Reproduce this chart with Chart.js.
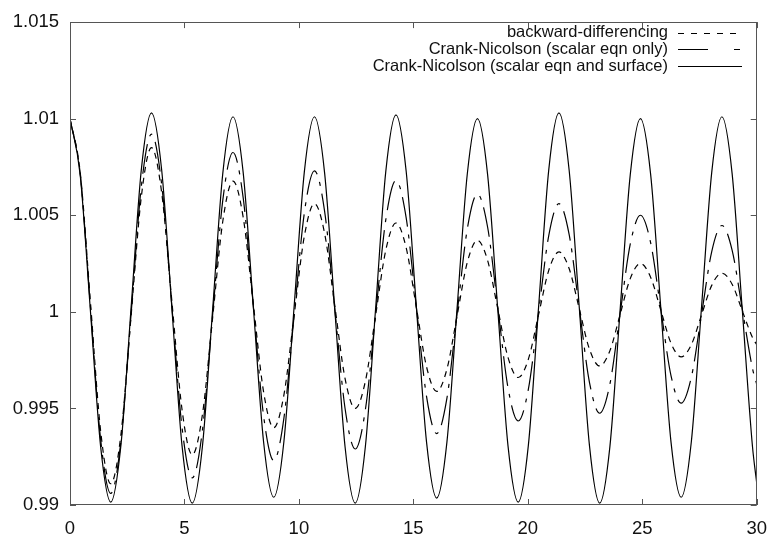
<!DOCTYPE html>
<html>
<head>
<meta charset="utf-8">
<script src="https://cdn.jsdelivr.net/npm/chart.js@4/dist/chart.umd.min.js"></script>
<style>
  html, body { margin: 0; padding: 0; background: #fff; }
  #wrap { width: 780px; height: 538px; }
</style>
</head>
<body>
<div id="wrap"><canvas id="c" width="780" height="538"></canvas></div>
<script>
// ---- data ----
const xs = [0, 0.445, 0.89, 1.335, 1.78, 2.225, 2.67, 3.115, 3.56, 4.005,
  4.45, 4.895, 5.34, 5.785, 6.23, 6.675, 7.12, 7.565, 8.01, 8.455,
  8.9, 9.345, 9.79, 10.235, 10.68, 11.125, 11.57, 12.015, 12.46, 12.905,
  13.35, 13.795, 14.24, 14.685, 15.13, 15.575, 16.02, 16.465, 16.91, 17.355,
  17.8, 18.245, 18.69, 19.135, 19.58, 20.025, 20.47, 20.915, 21.36, 21.805,
  22.25, 22.695, 23.14, 23.585, 24.03, 24.475, 24.92, 25.365, 25.81, 26.255,
  26.7, 27.145, 27.59, 28.035, 28.48, 28.925, 29.37, 29.815, 30];

const backwardDiff = [1.0100, 1.00723, 1.00055, 0.99387, 0.9911, 0.99365, 0.99980, 1.00595, 1.0085, 1.00617,
  1.00055, 0.99493, 0.9926, 0.99468, 0.99969, 1.00469, 1.00677, 1.00490, 1.00039, 0.99587,
  0.9940, 0.99570, 0.99980, 1.00390, 1.0056, 1.00405, 1.00030, 0.99655, 0.9950, 0.99641,
  0.99980, 1.00319, 1.0046, 1.00332, 1.00024, 0.99716, 0.99588, 0.99703, 0.99979, 1.00256,
  1.0037, 1.00266, 1.00015, 0.99764, 0.9966, 0.99755, 0.99985, 1.00215, 1.0031, 1.00224,
  1.00015, 0.99806, 0.9972, 0.99798, 0.99985, 1.00172, 1.0025, 1.00179, 1.00009, 0.99838,
  0.99767, 0.99830, 0.99984, 1.00137, 1.0020, 1.00143, 1.00005, 0.99867, 0.99830];

const cnScalarOnly = [1.0100, 1.00716, 1.00030, 0.99344, 0.9906, 0.99332, 0.99990, 1.00648, 1.0092, 1.00659,
  1.00030, 0.99401, 0.9914, 0.99387, 0.99983, 1.00578, 1.00825, 1.00591, 1.00028, 0.99464,
  0.9923, 0.99450, 0.99980, 1.00510, 1.0073, 1.00519, 1.00010, 0.99501, 0.9929, 0.99494,
  0.99985, 1.00476, 1.0068, 1.00488, 1.00025, 0.99562, 0.9937, 0.99552, 0.99990, 1.00428,
  1.0061, 1.00438, 1.00023, 0.99607, 0.99435, 0.99600, 0.99998, 1.00395, 1.0056, 1.00401,
  1.00018, 0.99634, 0.99475, 0.99625, 0.99988, 1.00350, 1.0050, 1.00358, 1.00014, 0.99670,
  0.99527, 0.99662, 0.99987, 1.00312, 1.00447, 1.00320, 1.00014, 0.99707, 0.99625];

const cnScalarSurface = [1.0100, 1.00709, 1.00008, 0.99306, 0.99015, 0.99310, 1.00023, 1.00735, 1.0103, 1.00734,
  1.00020, 0.99306, 0.9901, 0.99303, 1.00010, 1.00717, 1.0101, 1.00722, 1.00025, 0.99329,
  0.9904, 0.99329, 1.00025, 1.00722, 1.0101, 1.00717, 1.00010, 0.99303, 0.9901, 0.99304,
  1.00015, 1.00726, 1.0102, 1.00729, 1.00028, 0.99327, 0.99036, 0.99324, 1.00018, 1.00712,
  1.0100, 1.00709, 1.00008, 0.99306, 0.99015, 0.99310, 1.00023, 1.00735, 1.0103, 1.00734,
  1.00020, 0.99306, 0.9901, 0.99301, 1.00005, 1.00709, 1.0100, 1.00713, 1.00020, 0.99327,
  0.9904, 0.99329, 1.00025, 1.00722, 1.0101, 1.00717, 1.00010, 0.99303, 0.99114];

const seriesLabels = [
  'backward-differencing',
  'Crank-Nicolson (scalar eqn only)',
  'Crank-Nicolson (scalar eqn and surface)'
];
const xTicks = [0, 5, 10, 15, 20, 25, 30];
const yTicks = [0.99, 0.995, 1, 1.005, 1.01, 1.015];

// ---- styles ----
const dashes = [[6, 5], [30, 8, 4, 8], []];
const keyDashes = [[6, 7], [30, 26, 6, 40], []];
const FONT = '"Liberation Sans", Arial, Helvetica, sans-serif';

function pts(ys) { return xs.map((x, i) => ({ x: x, y: ys[i] })); }

const frameTicks = {
  id: 'frameTicks',
  afterDatasetsDraw(chart) {
    const { ctx, chartArea: a, scales } = chart;
    ctx.save();
    ctx.strokeStyle = '#555';
    ctx.lineWidth = 1;
    ctx.setLineDash([]);
    ctx.strokeRect(Math.round(a.left) + 0.5, Math.round(a.top) + 0.5,
      Math.round(a.right - a.left) - 1, Math.round(a.bottom - a.top) - 1);
    const L = 6;
    ctx.beginPath();
    xTicks.forEach(v => {
      const p = Math.round(scales.x.getPixelForValue(v)) + 0.5;
      ctx.moveTo(p, a.bottom); ctx.lineTo(p, a.bottom - L);
      ctx.moveTo(p, a.top); ctx.lineTo(p, a.top + L);
    });
    yTicks.forEach(v => {
      const p = Math.round(scales.y.getPixelForValue(v)) + 0.5;
      ctx.moveTo(a.left, p); ctx.lineTo(a.left + L, p);
      ctx.moveTo(a.right, p); ctx.lineTo(a.right - L, p);
    });
    ctx.stroke();
    ctx.restore();
  }
};

const gnuKey = {
  id: 'gnuKey',
  afterDraw(chart) {
    const { ctx } = chart;
    ctx.save();
    ctx.font = '16.5px ' + FONT;
    ctx.fillStyle = '#111';
    ctx.textAlign = 'right';
    ctx.textBaseline = 'middle';
    chart.data.datasets.forEach((ds, i) => {
      const y = 32.5 + i * 16.8;
      ctx.fillText(ds.label, 668, y);
      ctx.strokeStyle = '#000';
      ctx.lineWidth = 1.2;
      ctx.setLineDash(keyDashes[i]);
      ctx.beginPath();
      ctx.moveTo(678, Math.round(y) + 0.5);
      ctx.lineTo(742, Math.round(y) + 0.5);
      ctx.stroke();
    });
    ctx.restore();
  }
};

new Chart(document.getElementById('c'), {
  type: 'line',
  data: {
    datasets: [
      { label: seriesLabels[0], data: pts(backwardDiff), borderDash: dashes[0] },
      { label: seriesLabels[1], data: pts(cnScalarOnly), borderDash: dashes[1] },
      { label: seriesLabels[2], data: pts(cnScalarSurface), borderDash: dashes[2] }
    ].map(d => Object.assign(d, {
      borderColor: '#000', borderWidth: 1.2, pointRadius: 0,
      cubicInterpolationMode: 'monotone', fill: false
    }))
  },
  options: {
    responsive: false,
    devicePixelRatio: 1,
    animation: false,
    layout: { padding: { top: 16, right: 10, left: 0, bottom: 0 } },
    plugins: { legend: { display: false }, tooltip: { enabled: false } },
    scales: {
      x: {
        type: 'linear', min: 0, max: 30,
        afterBuildTicks: s => { s.ticks = xTicks.map(v => ({ value: v })); },
        afterFit: s => { s.height = 33; },
        grid: { display: false, drawTicks: false },
        border: { display: false },
        ticks: { color: '#111', font: { family: FONT, size: 18.5 }, padding: 13, maxRotation: 0,
          callback: v => String(v) }
      },
      y: {
        type: 'linear', min: 0.99, max: 1.015,
        afterBuildTicks: s => { s.ticks = yTicks.map(v => ({ value: v })); },
        afterFit: s => { s.width = 70; },
        grid: { display: false, drawTicks: false },
        border: { display: false },
        ticks: { color: '#111', font: { family: FONT, size: 18.5 }, padding: 11,
          callback: v => String(parseFloat(Number(v).toFixed(3))) }
      }
    }
  },
  plugins: [frameTicks, gnuKey]
});
</script>
</body>
</html>
